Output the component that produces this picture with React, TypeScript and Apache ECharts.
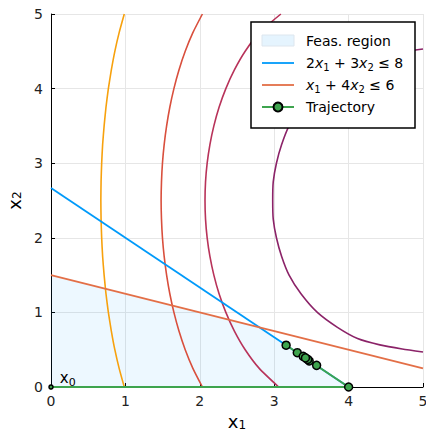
import React, { useEffect, useRef } from "react";
import * as echarts from "echarts";

const FONT = "DejaVu Sans";

// feasible region upper boundary (filled down to x2 = 0)
const regionX = [0, 2.8, 4];
const regionY = [1.5, 0.8, 0];

// constraint lines
const c1X = [0, 4];
const c1Y = [2.667, 0];
const c2X = [0, 5];
const c2Y = [1.5, 0.25];

// contour curves
const contourY = [0, 0.25, 0.5, 0.75, 1, 1.25, 1.5, 1.75, 2, 2.25, 2.5, 2.75, 3, 3.25, 3.5, 3.75, 4, 4.25, 4.5, 4.75, 5];
const yellowX = [0.985, 0.916, 0.858, 0.811, 0.771, 0.739, 0.714, 0.694, 0.681, 0.673, 0.67, 0.673, 0.681, 0.694, 0.714, 0.739, 0.771, 0.811, 0.858, 0.916, 0.985];
const redX = [2.035, 1.907, 1.804, 1.72, 1.652, 1.597, 1.554, 1.521, 1.498, 1.485, 1.48, 1.485, 1.498, 1.521, 1.554, 1.597, 1.652, 1.72, 1.804, 1.907, 2.035];
const crimsonX = [3.06, 2.799, 2.61, 2.465, 2.35, 2.259, 2.189, 2.136, 2.099, 2.077, 2.07, 2.077, 2.099, 2.136, 2.189, 2.259, 2.35, 2.465, 2.61, 2.799, 3.09];
const purpleY = [0.47, 0.51, 0.565, 0.65, 0.8, 1.0, 1.25, 1.5, 1.75, 2.0, 2.25, 2.5, 2.75, 3.0, 3.25, 3.5, 3.75, 4.0, 4.2, 4.35, 4.435, 4.49, 4.53];
const purpleX = [5.0, 4.72, 4.42, 4.12, 3.85, 3.58, 3.36, 3.2, 3.1, 3.03, 2.987, 2.98, 2.987, 3.03, 3.1, 3.2, 3.36, 3.58, 3.85, 4.12, 4.42, 4.72, 5.0];

// trajectory
const trajX = [0, 4, 3.16, 3.57, 3.31, 3.47, 3.39, 3.45, 3.42];
const trajY = [0, 0, 0.56, 0.29, 0.46, 0.35, 0.41, 0.37, 0.39];

const legendLabels = ["Feas. region", "2x1 + 3x2 ≤ 8", "x1 + 4x2 ≤ 6", "Trajectory"];

const BLUE = "#009AFA";
const ORANGE = "#E36F47";
const GREEN = "#3EA44E";

const zip = (xs: number[], ys: number[]) => xs.map((x, i) => [x, ys[i]]);

const subRich = (size: number, sub: number, extra = 4) => ({
  n: { fontSize: size, fontFamily: FONT, color: "#000", lineHeight: size + extra },
  i: { fontSize: size, fontFamily: FONT, fontStyle: "italic", color: "#000", lineHeight: size + extra },
  u: { fontSize: size, fontFamily: FONT, color: "#000", lineHeight: size + extra },
  s: { fontSize: sub, fontFamily: FONT, color: "#000", lineHeight: sub, verticalAlign: "bottom" },
});

export default function App() {
  const ref = useRef<HTMLDivElement>(null);
  useEffect(() => {
    const chart = echarts.init(ref.current!, null, { renderer: "svg" });

    const contour = (name: string, xs: number[], ys: number[], color: string) => ({
      type: "line",
      name,
      data: zip(xs, ys),
      symbol: "none",
      showSymbol: false,
      smooth: 0.2,
      lineStyle: { color, width: 1.6 },
      silent: true,
      z: 2,
    });

    const trajData: any[] = zip(trajX, trajY).map((p, i) =>
      i === 0
        ? {
            value: p,
            symbolSize: 4,
            label: {
              show: true,
              position: "right",
              offset: [1, -9],
              formatter: "{u|x}{s|0}",
              rich: subRich(15, 11),
            },
          }
        : { value: p }
    );

    const axisCommon = {
      type: "value",
      min: 0,
      max: 5,
      interval: 1,
      nameLocation: "middle",
      axisLine: { onZero: false, lineStyle: { color: "#000", width: 1 } },
      axisTick: { inside: true, length: 4, lineStyle: { color: "#000" } },
      splitLine: { show: true, lineStyle: { color: "#e6e6e6", width: 1 } },
    };

    const rowY = [40.5, 63, 85, 107];
    const textX = 306;
    const Z = 100;

    const option: any = {
      animation: false,
      grid: { left: 51, right: 3, top: 14, bottom: 45, containLabel: false, outerBoundsMode: "none" },
      xAxis: {
        ...axisCommon,
        name: "{u|x}{s|1}",
        nameGap: 22,
        nameTextStyle: { rich: subRich(18, 12, 0) },
        axisLabel: { margin: 7, fontSize: 14, color: "#222", fontFamily: FONT },
      },
      yAxis: {
        ...axisCommon,
        name: "{u|x}{s|2}",
        nameGap: 27,
        nameTextStyle: { rich: subRich(18, 12, 0) },
        axisLabel: { margin: 8, fontSize: 14, color: "#222", fontFamily: FONT },
      },
      series: [
        {
          type: "line",
          name: legendLabels[0],
          data: zip(regionX, regionY),
          symbol: "none",
          lineStyle: { width: 0, opacity: 0 },
          areaStyle: { color: "rgba(0,154,250,0.1)", origin: "start" },
          silent: true,
          z: 1,
        },
        contour("c1", yellowX, contourY, "#f7a10d"),
        contour("c2", redX, contourY, "#d94f3d"),
        contour("c3", crimsonX, contourY, "#b8335a"),
        contour("c4", purpleX, purpleY, "#8b2368"),
        {
          type: "line",
          name: legendLabels[1],
          data: zip(c1X, c1Y),
          symbol: "none",
          lineStyle: { color: BLUE, width: 1.8 },
          silent: true,
          z: 3,
        },
        {
          type: "line",
          name: legendLabels[2],
          data: zip(c2X, c2Y),
          symbol: "none",
          lineStyle: { color: ORANGE, width: 1.8 },
          silent: true,
          z: 3,
        },
        {
          type: "line",
          name: legendLabels[3],
          data: trajData,
          symbol: "circle",
          symbolSize: 8,
          showAllSymbol: true,
          lineStyle: { color: GREEN, width: 2 },
          itemStyle: { color: GREEN, borderColor: "#000", borderWidth: 1.5 },
          silent: true,
          z: 4,
        },
      ],
      graphic: [
        {
          type: "rect",
          z: Z,
          shape: { x: 251, y: 22, width: 164, height: 106 },
          style: { fill: "#fff", stroke: "#000", lineWidth: 1.5 },
        },
        {
          type: "rect",
          z: Z + 1,
          shape: { x: 262, y: 35, width: 32, height: 11 },
          style: { fill: "#e5f4fe", stroke: "#dde6ee", lineWidth: 1 },
        },
        {
          type: "line",
          z: Z + 1,
          shape: { x1: 262, y1: rowY[1], x2: 294, y2: rowY[1] },
          style: { stroke: BLUE, lineWidth: 1.8 },
        },
        {
          type: "line",
          z: Z + 1,
          shape: { x1: 262, y1: rowY[2], x2: 294, y2: rowY[2] },
          style: { stroke: ORANGE, lineWidth: 1.8 },
        },
        {
          type: "line",
          z: Z + 1,
          shape: { x1: 262, y1: rowY[3], x2: 294, y2: rowY[3] },
          style: { stroke: GREEN, lineWidth: 2 },
        },
        {
          type: "circle",
          z: Z + 2,
          shape: { cx: 278, cy: rowY[3], r: 4.5 },
          style: { fill: GREEN, stroke: "#000", lineWidth: 2 },
        },
        {
          type: "text",
          z: Z + 1,
          style: {
            x: textX,
            y: rowY[0],
            text: "{n|" + legendLabels[0] + "}",
            verticalAlign: "middle",
            rich: subRich(14, 10),
          },
        },
        {
          type: "text",
          z: Z + 1,
          style: {
            x: textX,
            y: rowY[1],
            text: "{n|2}{i|x}{s|1}{n| + 3}{i|x}{s|2}{n| ≤ 8}",
            verticalAlign: "middle",
            rich: subRich(14, 10),
          },
        },
        {
          type: "text",
          z: Z + 1,
          style: {
            x: textX,
            y: rowY[2],
            text: "{i|x}{s|1}{n| + 4}{i|x}{s|2}{n| ≤ 6}",
            verticalAlign: "middle",
            rich: subRich(14, 10),
          },
        },
        {
          type: "text",
          z: Z + 1,
          style: {
            x: textX,
            y: rowY[3],
            text: "{n|" + legendLabels[3] + "}",
            verticalAlign: "middle",
            rich: subRich(14, 10),
          },
        },
      ],
    };
    chart.setOption(option);
    return () => chart.dispose();
  }, []);

  return (
    <div
      ref={ref}
      style={{ position: "fixed", left: 0, top: 0, width: 426, height: 432, background: "#fff" }}
    />
  );
}
